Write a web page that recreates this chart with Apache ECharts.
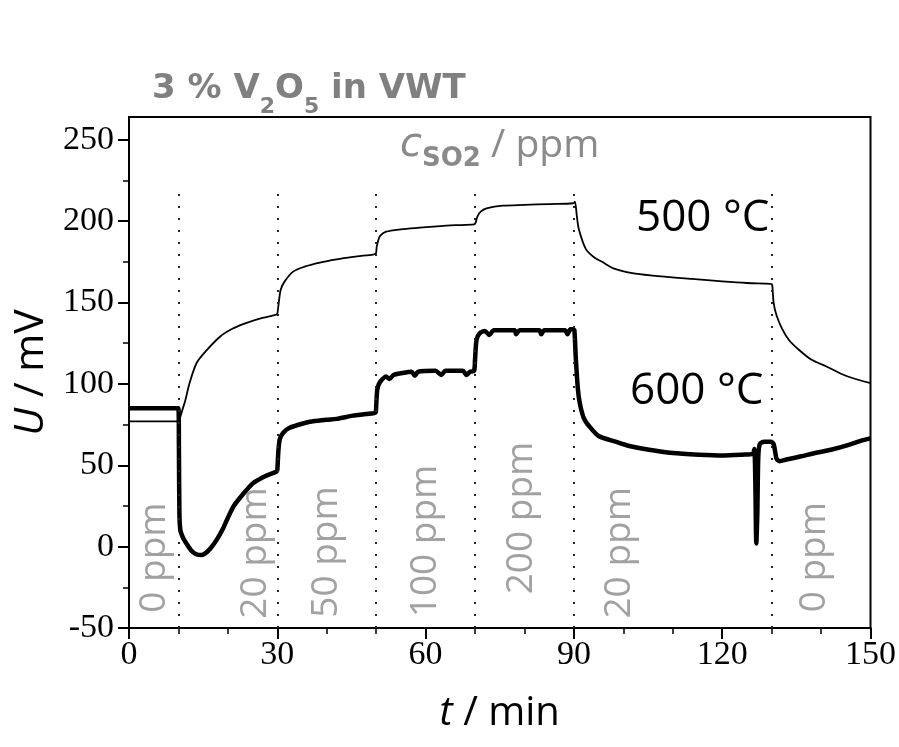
<!DOCTYPE html>
<html>
<head>
<meta charset="utf-8">
<script src="https://cdn.jsdelivr.net/npm/echarts@6/dist/echarts.min.js"></script>
<style>
  html, body { margin: 0; padding: 0; background: #fff; }
  #chart { width: 899px; height: 747px; }
</style>
</head>
<body>
<div id="chart"></div>
<script>
// Sensor voltage U (mV) over time t (min) at two temperatures, SO2 stepped in between.
const t500 = [0, 10, 10.3, 10.8, 11.4, 12.3, 13.7, 15.5, 18.4, 21, 23.8, 27, 29.8,
  30, 30.3, 30.7, 31.5, 33.2, 35.5, 38.6, 42, 45.3, 48, 49.9,
  50.1, 50.4, 50.8, 52, 55, 58.8, 63, 66, 69.8,
  70.1, 70.5, 71.2, 72.5, 75.6, 80, 85, 89.9,
  90.2, 90.6, 91, 92.4, 94, 95.7, 98, 101.8, 106, 113.9, 120, 125, 129.8,
  130.1, 130.4, 131, 132.1, 133.5, 135.5, 138, 140.9, 145, 150];
const u500 = [77, 77, 79, 84, 90, 101, 113, 120, 129, 134, 137.5, 140.5, 142.5,
  143, 150, 158, 163, 169, 172, 174.5, 176.5, 178, 179, 180,
  184, 188, 191, 193.5, 195, 196, 197, 197.5, 198,
  199, 203, 206, 208, 209.5, 210, 210.5, 211,
  212, 203, 195, 183, 178, 175, 171, 168, 166.5, 164.5, 163, 162, 161.5,
  161, 150, 142, 134, 127, 121, 115, 111, 105, 100.5];

const t600 = [0, 10, 10.1, 10.2, 10.4, 11, 11.6, 12.5, 13.5, 14.7, 15.5, 16.5, 17.7, 19, 21, 23, 25.1, 27, 28.5, 29.8,
  30, 30.2, 30.5, 31.2, 32.5, 35, 37.2, 40, 42, 45.3, 48, 49.9,
  50, 50.2, 50.5, 51, 52, 52.7, 53.5, 55, 57.2, 57.8, 58.5, 62, 63.2, 64, 67.5, 68.3, 69, 69.8,
  70, 70.3, 70.9, 72, 72.9, 73.8, 78, 78.3, 79, 83, 83.4, 84, 88.2, 88.7, 89.3, 89.9,
  90.1, 90.4, 90.8, 91.2, 92, 93.1, 95, 98.4, 101, 105.2, 110, 115.3, 120, 124, 126.2,
  126.5, 126.7, 126.9, 127.1, 127.3, 127.6, 128.5, 129.8, 130.4, 131, 131.6, 133, 136, 138.8, 142, 145.6, 148, 150];
const u600 = [85, 85, 60, 20, 10, 5, 2, -2, -4.5, -5.2, -4, -1, 4, 11, 24, 32, 39, 42.5, 44.5, 46,
  47, 58, 66, 70, 73, 75.5, 77, 78, 78.5, 80.5, 81.5, 82.5,
  86, 96, 99.5, 102, 104.5, 103, 105.5, 106.5, 107.5, 105, 107.5, 108, 105.5, 108, 108, 105.5, 107.5, 108,
  115, 127, 131, 132.5, 130, 133, 133, 130.5, 133, 133, 130.5, 133, 133, 130.5, 133.5, 133.5,
  133, 115, 97, 88, 79, 74, 68, 64.5, 62, 59.5, 57.5, 56.5, 56, 56.5, 57,
  60, 40, 2, 20, 55, 63, 64.5, 64.5, 63, 54, 52.5, 53.5, 55.5, 57.5, 59.5, 62.5, 65, 66.5];

// Times at which the SO2 concentration was switched, and the step labels
const switchTimes = [10, 30, 50, 70, 90, 130];
const stepLabels = ['0 ppm', '20 ppm', '50 ppm', '100 ppm', '200 ppm', '20 ppm', '0 ppm'];
const stepLabelT = [5.25, 25.6, 40, 60, 79.4, 99.3, 138.7];
const stepLabelU = [-6.7, -3.9, -3.3, 3.5, 17.6, -3.8, -6.5];

const xTicks = [0, 30, 60, 90, 120, 150];
const yMajorTicks = [-50, 0, 50, 100, 150, 200, 250];
const yMinorTicks = [-25, 25, 75, 125, 175, 225];

const zip = (a, b) => a.map((v, i) => [v, b[i]]);
const guideTop = 218;

const chart = echarts.init(document.getElementById('chart'), null, { renderer: 'canvas' });

const gray = '#8a8a8a';
const serif = '"Liberation Serif", "Times New Roman", serif';
const sans = '"Open Sans", "Noto Sans", sans-serif';

chart.setOption({
  animation: false,
  backgroundColor: '#fff',
  title: {
    left: 147, top: 67,
    text: '{m|3 % V}{s|2}{m|O}{s|5}{m| in VWT}',
    textStyle: {
      rich: {
        m: { fontFamily: '"DejaVu Sans", sans-serif', fontWeight: 'bold', fontSize: 34, color: '#808080', lineHeight: 40, verticalAlign: 'top' },
        s: { fontFamily: '"DejaVu Sans", sans-serif', fontWeight: 'bold', fontSize: 22, color: '#808080', lineHeight: 22, verticalAlign: 'top', padding: [24, 0, 0, 0] }
      }
    }
  },
  grid: {
    left: 129, right: 27, top: 117, bottom: 119,
    show: true, borderColor: '#000', borderWidth: 2, backgroundColor: 'transparent'
  },
  xAxis: {
    type: 'value', min: 0, max: 150, interval: 30,
    axisLine: { onZero: false, lineStyle: { color: '#000', width: 2 } },
    axisTick: { length: 11, lineStyle: { color: '#000', width: 2 } },
    minorTick: { show: true, splitNumber: 3, length: 6, lineStyle: { color: '#000', width: 1.5 } },
    splitLine: { show: false },
    axisLabel: { fontFamily: serif, fontSize: 34, color: '#000', margin: 10,
      customValues: xTicks },
    name: '{i|t}{r| / min}',
    nameLocation: 'middle', nameGap: 66,
    nameTextStyle: {
      rich: {
        i: { fontFamily: sans, fontStyle: 'italic', fontSize: 40, color: '#000' },
        r: { fontFamily: sans, fontSize: 40, color: '#000' }
      }
    }
  },
  yAxis: [{
    type: 'value', min: -50, max: 264, interval: 50,
    axisLine: { show: true, lineStyle: { color: '#000', width: 2 } },
    axisTick: { show: true, length: 11, lineStyle: { color: '#000', width: 2 }, customValues: yMajorTicks },
    splitLine: { show: false },
    axisLabel: { fontFamily: serif, fontSize: 34, color: '#000', margin: 15, customValues: yMajorTicks },
    name: '{i|U}{r| / mV}',
    nameLocation: 'middle', nameGap: 66,
    nameTextStyle: {
      rich: {
        i: { fontFamily: sans, fontStyle: 'italic', fontSize: 41, color: '#000' },
        r: { fontFamily: sans, fontSize: 41, color: '#000' }
      }
    }
  }, {
    type: 'value', min: -50, max: 264, position: 'left',
    axisLine: { show: false },
    axisTick: { show: true, length: 6, lineStyle: { color: '#000', width: 1.5 }, customValues: yMinorTicks },
    axisLabel: { show: false },
    splitLine: { show: false }
  }],
  series: [{
    name: '600 °C', type: 'line', data: zip(t600, u600),
    showSymbol: false, symbol: 'none', z: 4,
    smooth: 0.25,
    lineStyle: { color: '#000', width: 4.5, join: 'round' }
  }, {
    name: '500 °C', type: 'line', data: zip(t500, u500),
    showSymbol: false, symbol: 'none', z: 4,
    smooth: 0.3,
    lineStyle: { color: '#000', width: 1.8, join: 'round' },
    markLine: {
      silent: true, symbol: 'none', label: { show: false },
      lineStyle: { color: '#222', width: 2, type: [2, 10] },
      data: switchTimes.map(t => [{ coord: [t, -50] }, { coord: [t, guideTop] }])
    }
  }, {
    name: 'steps', type: 'scatter', symbolSize: 0, z: 3,
    data: stepLabels.map((s, i) => ({ name: s, value: [stepLabelT[i], stepLabelU[i]] })),
    label: {
      show: true, position: 'inside', rotate: 90,
      formatter: p => p.name,
      fontFamily: sans, fontSize: 37, color: gray
    }
  }],
  graphic: [{
    type: 'text', left: 400, top: 126,
    style: {
      text: '{c|c}{s|SO2}{r| / ppm}',
      rich: {
        c: { fontFamily: '"DejaVu Sans", sans-serif', fontStyle: 'italic', fontSize: 40, fill: gray, lineHeight: 46, verticalAlign: 'top' },
        s: { fontFamily: '"DejaVu Sans", sans-serif', fontWeight: 'bold', fontSize: 26, fill: gray, lineHeight: 26, verticalAlign: 'top', padding: [20, 0, 0, 0] },
        r: { fontFamily: sans, fontSize: 39, fill: gray, lineHeight: 46, verticalAlign: 'top' }
      }
    }
  }, {
    type: 'text', left: 636, top: 196,
    style: { text: '500 °C', font: '44px "Open Sans", sans-serif', fill: '#000' }
  }, {
    type: 'text', left: 630, top: 369,
    style: { text: '600 °C', font: '44px "Open Sans", sans-serif', fill: '#000' }
  }]
});
</script>
</body>
</html>
